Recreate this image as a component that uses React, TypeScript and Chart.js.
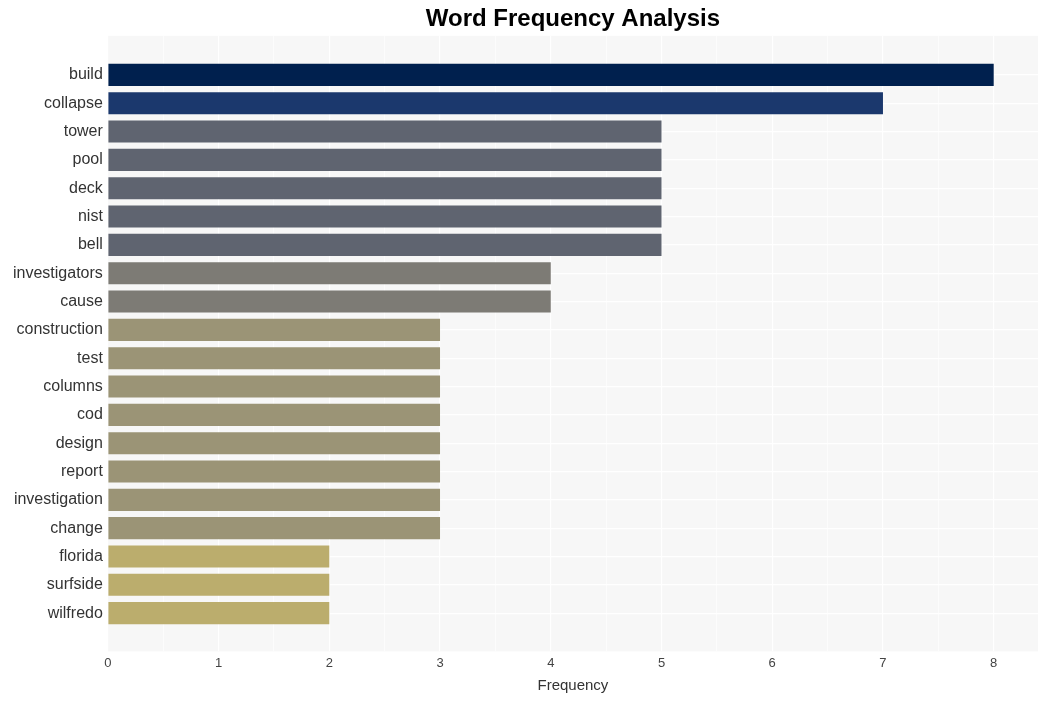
import React, { useEffect, useRef } from "react";
import { Chart, registerables } from "chart.js";

Chart.register(...registerables);

const words = [
  "build", "collapse", "tower", "pool", "deck", "nist", "bell", "investigators", "cause",
  "construction", "test", "columns", "cod", "design", "report", "investigation", "change",
  "florida", "surfside", "wilfredo",
];
const frequencies = [8, 7, 5, 5, 5, 5, 5, 4, 4, 3, 3, 3, 3, 3, 3, 3, 3, 2, 2, 2];
const xTickValues = [0, 1, 2, 3, 4, 5, 6, 7, 8];

const colorByValue: Record<number, string> = {
  8: "#00204e",
  7: "#1b386d",
  5: "#5f6470",
  4: "#7d7b75",
  3: "#9b9476",
  2: "#bbad6d",
};

const bgPlugin = {
  id: "plotBg",
  beforeDraw(chart: any) {
    const { ctx, chartArea } = chart;
    if (!chartArea) return;
    ctx.save();
    ctx.fillStyle = "#f7f7f7";
    ctx.fillRect(chartArea.left, chartArea.top, chartArea.right - chartArea.left, chartArea.bottom - chartArea.top);
    ctx.restore();
  },
};

export default function App() {
  const ref = useRef<HTMLCanvasElement | null>(null);
  useEffect(() => {
    document.body.style.margin = "0";
    if (!ref.current) return;
    const chart = new Chart(ref.current, {
      type: "bar",
      data: {
        datasets: [
          {
            data: frequencies.map((v, i) => ({ x: v, y: i })) as any,
            backgroundColor: frequencies.map((v) => colorByValue[v]),
            barPercentage: 0.78,
            categoryPercentage: 1,
          },
        ],
      },
      options: {
        indexAxis: "y",
        animation: false,
        responsive: false,
        layout: { padding: { left: 8, right: 10, top: 5, bottom: 6 } },
        plugins: {
          legend: { display: false },
          tooltip: { enabled: false },
          title: {
            display: true,
            text: "Word Frequency Analysis",
            fullSize: false,
            color: "#000",
            font: { family: "Liberation Sans, Arial", size: 24, weight: "bold" },
            padding: { top: 0, bottom: 2 },
          },
        },
        scales: {
          x: {
            type: "linear",
            min: 0,
            max: 8.4,
            offset: false,
            afterBuildTicks: (axis: any) => {
              const t: any[] = [];
              for (let v = 0; v <= 8; v += 0.5) t.push({ value: v });
              axis.ticks = t;
            },
            ticks: {
              autoSkip: false,
              maxRotation: 0,
              color: "#444",
              font: { family: "Liberation Sans, Arial", size: 13 },
              padding: 4,
              callback: (v: any) => (xTickValues.includes(Number(v)) ? String(v) : ""),
            },
            grid: { offset: false, color: "#ffffff", lineWidth: (c: any) => (Number.isInteger(c.tick?.value) ? 1.2 : 0.6), drawTicks: false },
            border: { display: false },
            title: {
              display: true,
              text: "Frequency",
              color: "#333",
              font: { family: "Liberation Sans, Arial", size: 15 },
              padding: { top: 2, bottom: 0 },
            },
          },
          y: {
            type: "linear",
            reverse: true,
            offset: false,
            min: -1.38,
            max: 20.35,
            afterBuildTicks: (axis: any) => {
              axis.ticks = words.map((_, i) => ({ value: i }));
            },
            ticks: {
              autoSkip: false,
              color: "#333",
              font: { family: "Liberation Sans, Arial", size: 16 },
              padding: 5,
              callback: (v: any) => words[Number(v)] ?? "",
            },
            grid: { offset: false, color: "#ffffff", lineWidth: 1.2, drawTicks: false },
            border: { display: false },
          },
        },
      },
      plugins: [bgPlugin],
    });
    return () => chart.destroy();
  }, []);
  return (
    <div style={{ position: "absolute", left: 0, top: 0, width: 1048, height: 701 }}>
      <canvas ref={ref} width={1048} height={701} />
    </div>
  );
}
